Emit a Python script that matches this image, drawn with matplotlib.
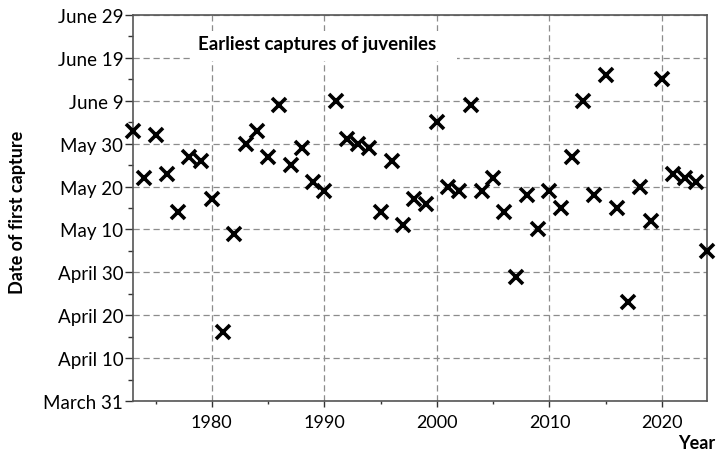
import numpy as np
import matplotlib
matplotlib.use("Agg")
import matplotlib.pyplot as plt
from matplotlib.patches import Rectangle
from matplotlib.ticker import MultipleLocator

plt.rcParams['font.family'] = ['Lato', 'DejaVu Sans']

# Earliest juvenile capture each year (month-day)
years = np.arange(1973, 2025)
first_capture = [
    "06-02", "05-22", "06-01", "05-23", "05-14", "05-27", "05-26", "05-17",
    "04-16", "05-09", "05-30", "06-02", "05-27", "06-08", "05-25", "05-29",
    "05-21", "05-19", "06-09", "05-31", "05-30", "05-29", "05-14", "05-26",
    "05-11", "05-17", "05-16", "06-04", "05-20", "05-19", "06-08", "05-19",
    "05-22", "05-14", "04-29", "05-18", "05-10", "05-19", "05-15", "05-27",
    "06-09", "05-18", "06-15", "05-15", "04-23", "05-20", "05-12", "06-14",
    "05-23", "05-22", "05-21", "05-05",
]
tick_labels = ["March 31", "April 10", "April 20", "April 30", "May 10",
               "May 20", "May 30", "June 9", "June 19", "June 29"]

# days counted from March 31 (non-leap reference year)
base = np.datetime64("2001-03-31")
days = (np.array(["2001-" + d for d in first_capture], dtype="datetime64[D]") - base).astype(int)

fig = plt.figure(figsize=(7.28, 4.52), dpi=100)
ax = fig.add_axes([0.1827, 0.1106, 0.7885, 0.854])

ax.plot(years, days, linestyle="none", marker="x", color="black",
        markersize=10, markeredgewidth=2.6, clip_on=False, zorder=5)

ax.set_xlim(1973, 2024)
ax.set_ylim(0, 90)
ax.xaxis.set_major_locator(MultipleLocator(10))
ax.xaxis.set_minor_locator(MultipleLocator(5))
ax.yaxis.set_minor_locator(MultipleLocator(5))
ax.set_yticks(np.arange(0, 91, 10))
ax.set_yticklabels(tick_labels)

ax.grid(True, which="major", linestyle=(0, (5, 3)), color="#8c8c8c", linewidth=0.9)
ax.set_axisbelow(True)

ax.tick_params(axis="y", which="major", direction="out", length=6, width=1,
               labelsize=13.5, pad=1, color="#333333")
ax.tick_params(axis="y", which="minor", direction="out", length=3.5, width=1, color="#333333")
ax.tick_params(axis="x", which="major", direction="out", length=4, width=1,
               labelsize=13, pad=5, color="#333333")
ax.tick_params(axis="x", which="minor", direction="out", length=2.5, width=1, color="#333333")
for s in ax.spines.values():
    s.set_color("#555555")
    s.set_linewidth(1.2)

fig.text(18 / 728, 0.531, "Date of first capture", rotation=90,
         ha="center", va="center", fontsize=13, fontweight="bold")
ax.text(1.014, -0.085, "Year", transform=ax.transAxes, ha="right", va="top",
        fontsize=13, fontweight="bold")

# white panel behind the title, hiding the grid
ax.add_patch(Rectangle((0.0993, 0.881), 0.4652, 0.0775, transform=ax.transAxes,
                       facecolor="white", edgecolor="none", zorder=3))
ax.text(0.3206, 0.925, "Earliest captures of juveniles", transform=ax.transAxes,
        ha="center", va="center", fontsize=13.5, fontweight="bold", zorder=4)

fig.savefig("out.png", dpi=100)
